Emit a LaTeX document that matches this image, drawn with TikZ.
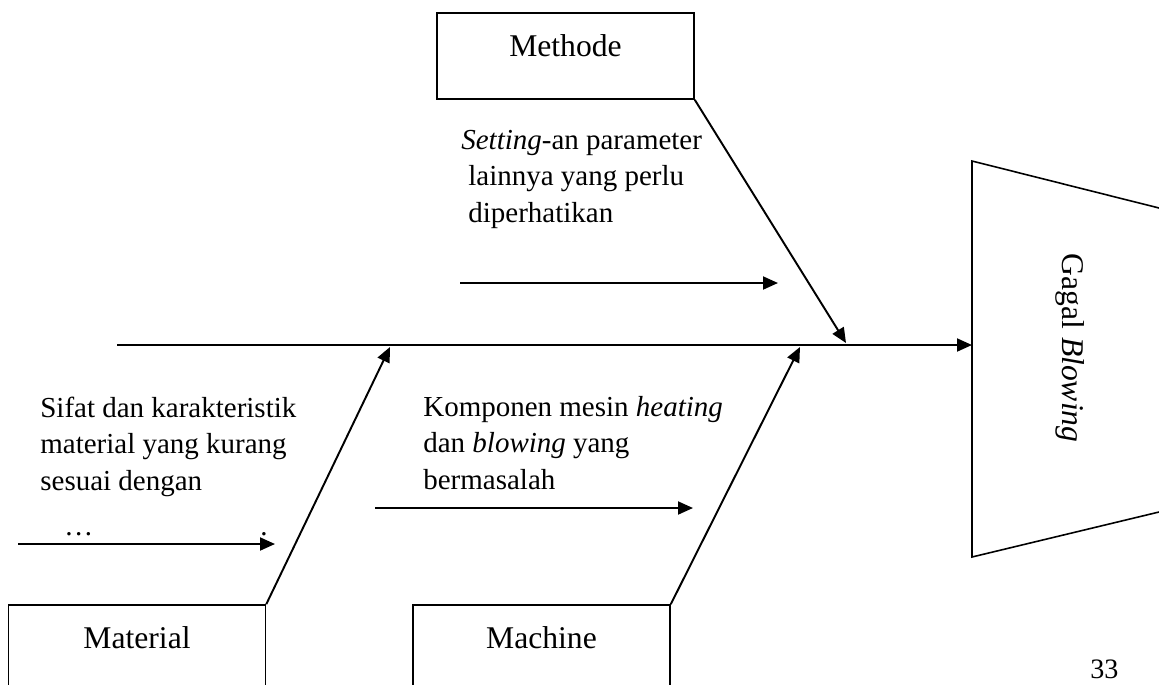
\documentclass[tikz,border=0pt]{standalone}
\usepackage{fontspec}
\setmainfont{Liberation Serif}
\usetikzlibrary{arrows.meta}

\begin{document}
\begin{tikzpicture}[
    x=0.02cm, y=-0.02cm,
    causebox/.style={draw, line width=0.9pt, minimum width=5.14cm, minimum height=1.72cm, inner sep=0pt, text height=3mm, text depth=3mm, font=\fontsize{18}{21}\selectfont},
    causetext/.style={anchor=base west, inner sep=0pt, align=left, font=\fontsize{16.5}{20.5}\selectfont},
    bone/.style={-{Triangle[length=3mm,width=2.6mm]}, line width=1.1pt}
  ]
    \useasboundingbox (0,0) rectangle (1159,684);
    \clip (0,0) rectangle (1159,684);

    \node[causebox] (methode) at (565.5,56) {Methode};
    \node[causebox] (material) at (137,648) {Material};
    \node[causebox] (machine) at (541.5,648) {Machine};

    \coordinate (tail) at (117,345);
    \coordinate (head) at (972,345);
    \coordinate (methodeTip) at (846,343);
    \coordinate (materialTip) at (390,347);
    \coordinate (machineTip) at (800,347);

    \draw[line width=0.9pt] (1159,208) -- (972,161) -- (972,557) -- (1159,512);
    \node[rotate=-90, font=\fontsize{18}{21}\selectfont] (effect) at (1070,348) {Gagal \textit{Blowing}};

    \draw[bone] (tail) -- (head);
    \draw[bone] (methode.south east) -- (methodeTip);
    \draw[bone] (material.north east) -- (materialTip);
    \draw[bone] (machine.north east) -- (machineTip);

    \coordinate (methodeFrom) at (460,283);
    \coordinate (methodeTo) at (778,283);
    \coordinate (materialFrom) at (18,544);
    \coordinate (materialTo) at (275,544);
    \coordinate (machineFrom) at (375,508);
    \coordinate (machineTo) at (693,508);
    \draw[bone] (methodeFrom) -- (methodeTo);
    \draw[bone] (materialFrom) -- (materialTo);
    \draw[bone] (machineFrom) -- (machineTo);

    \node[causetext] (methodeCause) at (461,222) {\textit{Setting}-an parameter\\\hspace*{4pt}lainnya yang perlu\\\hspace*{4pt}diperhatikan};
    \node[causetext] (materialCause) at (40,490) {Sifat dan karakteristik\\material yang kurang\\sesuai dengan};
    \node[causetext] (machineCause) at (423,489) {Komponen mesin \textit{heating}\\dan \textit{blowing} yang\\bermasalah};
    \node[causetext] (dots) at (66,535) {\textit{…}};
    \node[causetext] (stop) at (260,535) {.};
    \node[anchor=base west, inner sep=0pt, font=\fontsize{16}{19}\selectfont] (page) at (1090,678) {33};
  \end{tikzpicture}
\end{document}
